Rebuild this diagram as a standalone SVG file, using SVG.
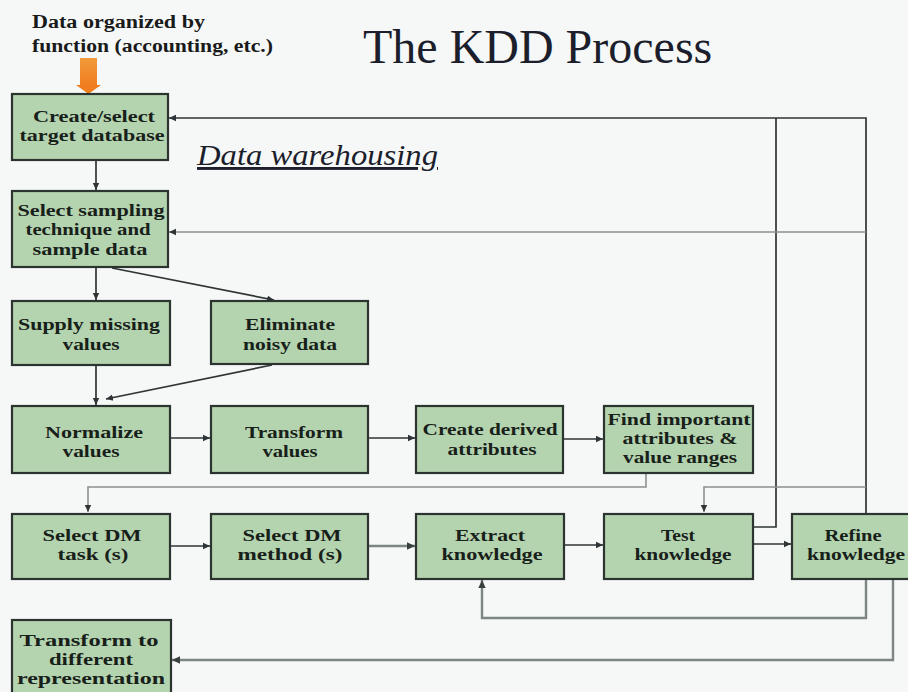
<svg xmlns="http://www.w3.org/2000/svg" width="908" height="692" viewBox="0 0 908 692">
  <defs>
    <marker id="arrDark" markerUnits="userSpaceOnUse" markerWidth="8" markerHeight="8" refX="7" refY="4" orient="auto">
      <path d="M0,0.8 L7,4 L0,7.2 Z" fill="#2f3436"/>
    </marker>
    <marker id="arrGrey" markerUnits="userSpaceOnUse" markerWidth="9" markerHeight="9" refX="8" refY="4.5" orient="auto">
      <path d="M0,0.8 L8,4.5 L0,8.2 Z" fill="#3a3f40"/>
    </marker>
    <linearGradient id="orangeGrad" x1="0" y1="0" x2="0" y2="1">
      <stop offset="0" stop-color="#f29a3a"/>
      <stop offset="1" stop-color="#f07d1e"/>
    </linearGradient>
  </defs>
  <style>
    .box { fill: #b4d4af; stroke: #2c3430; stroke-width: 2.2; }
    .lbl { font-family: "Liberation Serif", "Times New Roman", serif; font-weight: bold; font-size: 16px; fill: #18201a; text-anchor: middle; }
    .dark { fill: none; stroke: #2f3436; stroke-width: 1.7; }
    .grey { fill: none; stroke: #7e8585; stroke-width: 2.4; }
    .thin { fill: none; stroke: #8a9090; stroke-width: 1.6; }
  </style>

  <rect width="908" height="692" fill="#f5f8f7"/>

  <!-- title and notes -->
  <text x="363" y="63" font-family="Liberation Serif, Times New Roman, serif" font-size="48" fill="#1c1e2c">The KDD Process</text>
  <text x="32" y="28" font-family="Liberation Serif, serif" font-weight="bold" font-size="18" fill="#1a1a1a" textLength="173" lengthAdjust="spacingAndGlyphs">Data organized by</text>
  <text x="32" y="52" font-family="Liberation Serif, serif" font-weight="bold" font-size="18" fill="#1a1a1a" textLength="241" lengthAdjust="spacingAndGlyphs">function (accounting, etc.)</text>
  <text x="197" y="165" font-family="Liberation Serif, serif" font-style="italic" font-size="29" fill="#1c1e2c" text-decoration="underline" textLength="241" lengthAdjust="spacingAndGlyphs">Data warehousing</text>

  <!-- incoming data arrow -->
  <g id="source-arrow">
    <rect x="80" y="58" width="17" height="28" fill="url(#orangeGrad)"/>
    <path d="M76,85 L101,85 L88.5,94 Z" fill="#f07d1e"/>
  </g>

  <!-- connectors -->
  <g id="connectors">
    <line class="dark" x1="96" y1="160" x2="96" y2="190" marker-end="url(#arrDark)"/>
    <line class="dark" x1="96" y1="267" x2="96" y2="300" marker-end="url(#arrDark)"/>
    <line class="dark" x1="112" y1="268" x2="274" y2="300" marker-end="url(#arrDark)"/>
    <line class="dark" x1="96" y1="365" x2="96" y2="405" marker-end="url(#arrDark)"/>
    <line class="dark" x1="272" y1="365" x2="106" y2="399" marker-end="url(#arrDark)"/>
    <line class="dark" x1="170" y1="438" x2="210" y2="438" marker-end="url(#arrDark)"/>
    <line class="dark" x1="368" y1="438" x2="415" y2="438" marker-end="url(#arrDark)"/>
    <line class="dark" x1="563" y1="439" x2="603" y2="439" marker-end="url(#arrDark)"/>
    <polyline class="thin" points="646,473 646,487 88,487 88,512" marker-end="url(#arrDark)"/>
    <line class="dark" x1="170" y1="546" x2="210" y2="546" marker-end="url(#arrDark)"/>
    <line class="grey" x1="368" y1="546" x2="415" y2="546" marker-end="url(#arrGrey)"/>
    <line class="dark" x1="564" y1="545" x2="603" y2="545" marker-end="url(#arrDark)"/>
    <line class="dark" x1="753" y1="544" x2="791" y2="544" marker-end="url(#arrDark)"/>
    <!-- feedback loops -->
    <polyline class="dark" points="866,514 866,118 169,118" marker-end="url(#arrDark)"/>
    <polyline class="dark" points="753,527 776,527 776,118"/>
    <line class="thin" x1="866" y1="232" x2="169" y2="232" marker-end="url(#arrDark)"/>
    <polyline class="thin" points="866,487 704,487 704,512" marker-end="url(#arrDark)"/>
    <polyline class="grey" points="866,579 866,618 482,618 482,580" marker-end="url(#arrGrey)"/>
    <polyline class="grey" points="893,579 893,660 172,660" marker-end="url(#arrGrey)"/>
  </g>

  <!-- process steps -->
  <g id="create-target">
    <rect class="box" x="12" y="94" width="156" height="66"/>
    <text class="lbl" x="94" y="122" textLength="122" lengthAdjust="spacingAndGlyphs">Create/select</text>
    <text class="lbl" x="92" y="141" textLength="145" lengthAdjust="spacingAndGlyphs">target database</text>
  </g>
  <g id="select-sampling">
    <rect class="box" x="12" y="191" width="156" height="76"/>
    <text class="lbl" x="91" y="216" textLength="147" lengthAdjust="spacingAndGlyphs">Select sampling</text>
    <text class="lbl" x="88" y="235" textLength="125" lengthAdjust="spacingAndGlyphs">technique and</text>
    <text class="lbl" x="90" y="255" textLength="115" lengthAdjust="spacingAndGlyphs">sample data</text>
  </g>
  <g id="supply-missing">
    <rect class="box" x="12" y="301" width="158" height="64"/>
    <text class="lbl" x="89" y="330" textLength="142" lengthAdjust="spacingAndGlyphs">Supply missing</text>
    <text class="lbl" x="91" y="350" textLength="57" lengthAdjust="spacingAndGlyphs">values</text>
  </g>
  <g id="eliminate-noisy">
    <rect class="box" x="211" y="301" width="157" height="63"/>
    <text class="lbl" x="290" y="330" textLength="90" lengthAdjust="spacingAndGlyphs">Eliminate</text>
    <text class="lbl" x="290" y="350" textLength="94" lengthAdjust="spacingAndGlyphs">noisy data</text>
  </g>
  <g id="normalize">
    <rect class="box" x="12" y="406" width="158" height="67"/>
    <text class="lbl" x="94" y="438" textLength="98" lengthAdjust="spacingAndGlyphs">Normalize</text>
    <text class="lbl" x="91" y="457" textLength="57" lengthAdjust="spacingAndGlyphs">values</text>
  </g>
  <g id="transform-values">
    <rect class="box" x="211" y="406" width="157" height="67"/>
    <text class="lbl" x="294" y="438" textLength="98" lengthAdjust="spacingAndGlyphs">Transform</text>
    <text class="lbl" x="290" y="457" textLength="55" lengthAdjust="spacingAndGlyphs">values</text>
  </g>
  <g id="create-derived">
    <rect class="box" x="416" y="406" width="147" height="67"/>
    <text class="lbl" x="490" y="435" textLength="135" lengthAdjust="spacingAndGlyphs">Create derived</text>
    <text class="lbl" x="492" y="455" textLength="89" lengthAdjust="spacingAndGlyphs">attributes</text>
  </g>
  <g id="find-important">
    <rect class="box" x="604" y="406" width="149" height="67"/>
    <text class="lbl" x="679" y="425" textLength="143" lengthAdjust="spacingAndGlyphs">Find important</text>
    <text class="lbl" x="680" y="444" textLength="115" lengthAdjust="spacingAndGlyphs">attributes &amp;</text>
    <text class="lbl" x="680" y="463" textLength="114" lengthAdjust="spacingAndGlyphs">value ranges</text>
  </g>
  <g id="select-task">
    <rect class="box" x="12" y="514" width="158" height="65"/>
    <text class="lbl" x="92" y="541" textLength="99" lengthAdjust="spacingAndGlyphs">Select DM</text>
    <text class="lbl" x="93" y="560" textLength="71" lengthAdjust="spacingAndGlyphs">task (s)</text>
  </g>
  <g id="select-method">
    <rect class="box" x="211" y="514" width="157" height="65"/>
    <text class="lbl" x="292" y="541" textLength="99" lengthAdjust="spacingAndGlyphs">Select DM</text>
    <text class="lbl" x="290" y="560" textLength="105" lengthAdjust="spacingAndGlyphs">method (s)</text>
  </g>
  <g id="extract-knowledge">
    <rect class="box" x="416" y="514" width="148" height="65"/>
    <text class="lbl" x="490" y="541" textLength="70" lengthAdjust="spacingAndGlyphs">Extract</text>
    <text class="lbl" x="492" y="560" textLength="101" lengthAdjust="spacingAndGlyphs">knowledge</text>
  </g>
  <g id="test-knowledge">
    <rect class="box" x="604" y="514" width="149" height="65"/>
    <text class="lbl" x="678" y="541" textLength="34" lengthAdjust="spacingAndGlyphs">Test</text>
    <text class="lbl" x="683" y="560" textLength="97" lengthAdjust="spacingAndGlyphs">knowledge</text>
  </g>
  <g id="refine-knowledge">
    <rect class="box" x="792" y="514" width="120" height="65"/>
    <text class="lbl" x="853" y="541" textLength="57" lengthAdjust="spacingAndGlyphs">Refine</text>
    <text class="lbl" x="856" y="560" textLength="98" lengthAdjust="spacingAndGlyphs">knowledge</text>
  </g>
  <g id="transform-representation">
    <rect class="box" x="12" y="620" width="159" height="80"/>
    <text class="lbl" x="89" y="646" textLength="139" lengthAdjust="spacingAndGlyphs">Transform to</text>
    <text class="lbl" x="91" y="665" textLength="84" lengthAdjust="spacingAndGlyphs">different</text>
    <text class="lbl" x="91" y="684" textLength="148" lengthAdjust="spacingAndGlyphs">representation</text>
  </g>
</svg>
